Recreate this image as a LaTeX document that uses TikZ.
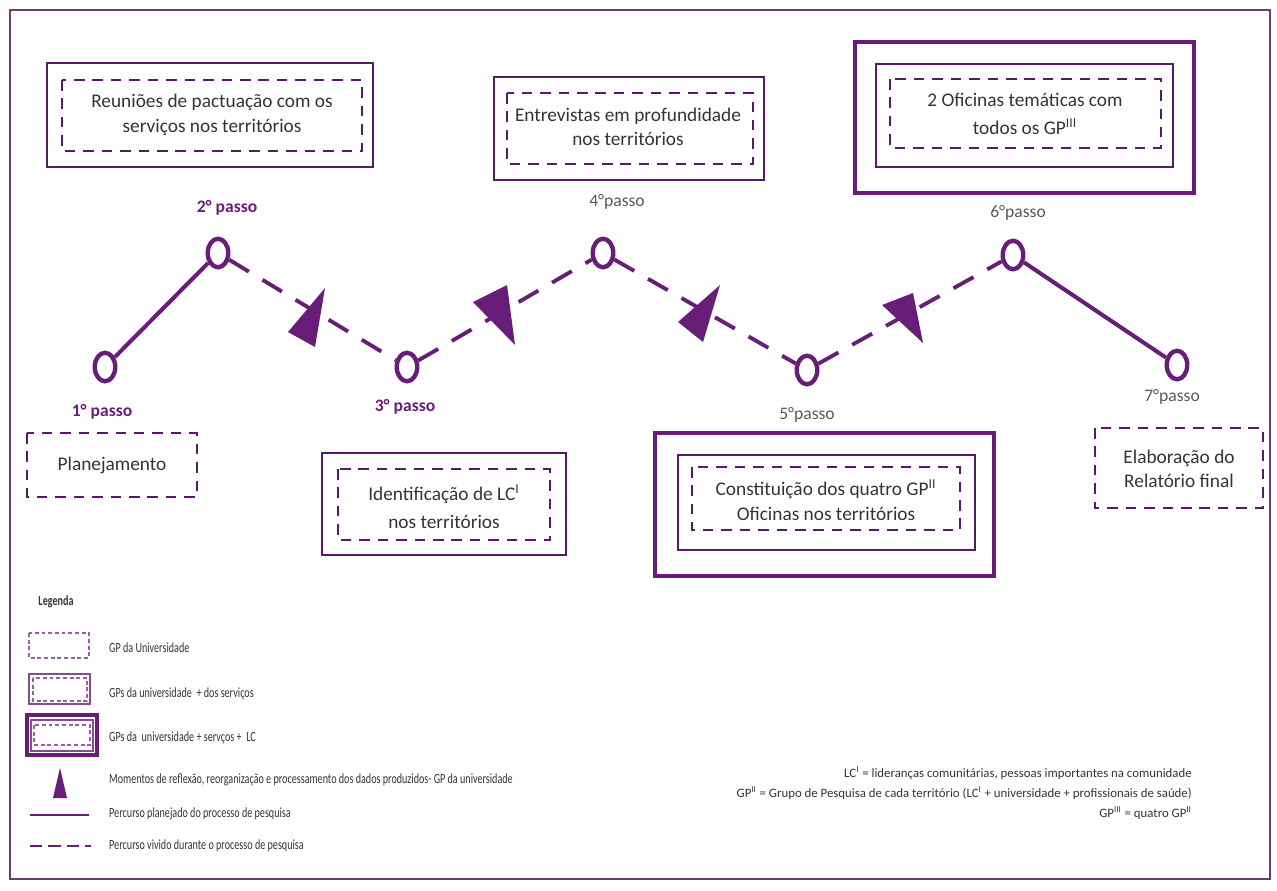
\documentclass[tikz,border=0pt]{standalone}
\usepackage{fontspec}
\setmainfont{Carlito}
\newfontfamily\legendafont[FakeStretch=0.72]{Carlito}
\usetikzlibrary{shapes.geometric}
\definecolor{roxo}{RGB}{104,30,120}
\definecolor{moldura}{RGB}{108,60,112}
\definecolor{texto}{RGB}{52,52,52}
\definecolor{cinza}{RGB}{88,88,88}
\tikzset{
	passo/.style={ellipse, draw=roxo, line width=2.5pt, minimum width=0.41cm, minimum height=0.57cm, inner sep=0pt},
	planejado/.style={draw=roxo, line width=2.3pt},
	vivido/.style={draw=roxo, line width=2.2pt, dash pattern=on 13pt off 9pt},
	gpuni/.style={draw=roxo!85!black, line width=1.6pt, dash pattern=on 6pt off 4.5pt},
	gpserv/.style={draw=roxo!85!black, line width=1.2pt},
	gplc/.style={draw=roxo, line width=2.8pt},
	rotulo/.style={font=\bfseries\fontsize{10}{12}\selectfont, text=roxo},
	rotulocinza/.style={font=\fontsize{10}{12}\selectfont, text=cinza},
	caixa/.style={align=center, font=\fontsize{11}{14}\selectfont, text=texto},
	legtexto/.style={anchor=west, font=\legendafont\fontsize{8}{9}\selectfont, text=texto},
	nota/.style={anchor=east, font=\fontsize{7.3}{9}\selectfont, text=texto},
}
\begin{document}
\begin{tikzpicture}[x=0.02cm, y=-0.02cm]
			%%%%% MOLDURA %%%%%
			\useasboundingbox (0,0) rectangle (1277,890);
			\draw[moldura, line width=1.2pt] (10,10) rectangle (1270,879);
			
			%%%%% PASSOS %%%%%
			\node[passo] (n1) at (105,367) {};
			\node[passo] (n2) at (218,253) {};
			\node[passo] (n3) at (407,367) {};
			\node[passo] (n4) at (603,253) {};
			\node[passo] (n5) at (807,370) {};
			\node[passo] (n6) at (1013,255) {};
			\node[passo] (n7) at (1177,365) {};
			
			\draw[planejado] (n1) -- (n2);
			\draw[vivido] (n2) -- (n3);
			\draw[vivido] (n3) -- (n4);
			\draw[vivido] (n4) -- (n5);
			\draw[vivido] (n5) -- (n6);
			\draw[planejado] (n6) -- (n7);
			
			% momentos de reflexao
			\fill[roxo] (325,288) -- (288,332) -- (315,347) -- cycle;
			\fill[roxo] (473,302) -- (507,285) -- (515,345) -- cycle;
			\fill[roxo] (720,285) -- (678,322) -- (703,342) -- cycle;
			\fill[roxo] (882,305) -- (913,293) -- (923,343) -- cycle;
			
			\node[rotulo] (r1) at (102,412) {1° passo};
			\node[rotulo] (r2) at (227,208) {2° passo};
			\node[rotulo] (r3) at (405,407) {3° passo};
			\node[rotulocinza] (r4) at (617,202) {4°passo};
			\node[rotulocinza] (r5) at (807,415) {5°passo};
			\node[rotulocinza] (r6) at (1018,213) {6°passo};
			\node[rotulocinza] (r7) at (1172,397) {7°passo};
			
			%%%%% CAIXAS %%%%%
			\draw[gpuni] (27,433) rectangle (197,497);
			\node[caixa] (c1) at (112,465) {Planejamento};
			
			\draw[gpserv] (47,63) rectangle (373,167);
			\draw[gpuni] (62,80) rectangle (362,151);
			\node[caixa] (c2) at (212,115) {Reuniões de pactuação com os\\serviços nos territórios};
			
			\draw[gpserv] (322,453) rectangle (566,555);
			\draw[gpuni] (338,469) rectangle (550,540);
			\node[caixa] (c3) at (444,507) {Identificação de LC\textsuperscript{I}\\[2pt]nos territórios};
			
			\draw[gpserv] (494,77) rectangle (764,180);
			\draw[gpuni] (507,93) rectangle (753,164);
			\node[caixa] (c4) at (628,127) {Entrevistas em profundidade\\nos territórios};
			
			\draw[gplc] (655,433) rectangle (994,576);
			\draw[gpserv] (678,455) rectangle (975,550);
			\draw[gpuni] (692,467) rectangle (960,530);
			\node[caixa] (c5) at (826,500) {Constituição dos quatro GP\textsuperscript{II}\\Oficinas nos territórios};
			
			\draw[gplc] (855,42) rectangle (1194,193);
			\draw[gpserv] (876,64) rectangle (1173,167);
			\draw[gpuni] (890,79) rectangle (1161,148);
			\node[caixa] (c6) at (1025,114) {2 Oficinas temáticas com\\[2pt]todos os GP\textsuperscript{III}};
			
			\draw[gpuni] (1095,428) rectangle (1263,508);
			\node[caixa] (c7) at (1179,469) {Elaboração do\\Relatório final};
			
			%%%%% LEGENDA %%%%%
			\node[font=\legendafont\bfseries\fontsize{8}{9}\selectfont, text=texto] (leg) at (56,602) {Legenda};
			
			\draw[draw=roxo!70, line width=0.7pt, dash pattern=on 2.2pt off 1.6pt] (29,633) rectangle (89,658);
			\node[legtexto] (l1) at (103,648) {GP da Universidade};
			
			\draw[draw=roxo!80, line width=0.9pt] (29,674) rectangle (90,704);
			\draw[draw=roxo!70, line width=0.7pt, dash pattern=on 2.2pt off 1.6pt] (33,678) rectangle (87,701);
			\node[legtexto] (l2) at (103,694) {GPs da universidade\ \ + dos serviços};
			
			\draw[draw=roxo, line width=1.8pt] (27,715) rectangle (97,755);
			\draw[draw=roxo!80, line width=0.8pt] (31,720) rectangle (93,751);
			\draw[draw=roxo!70, line width=0.7pt, dash pattern=on 2.2pt off 1.6pt] (34,725) rectangle (90,745);
			\node[legtexto] (l3) at (103,738) {GPs da\ \ universidade + servços +\ \ LC};
			
			\fill[roxo] (60,768) -- (53,798) -- (67,798) -- cycle;
			\node[legtexto] (l4) at (103,780) {Momentos de reflexão, reorganização e processamento dos dados produzidos- GP da universidade};
			
			\coordinate (p1) at (30,815);
			\coordinate (p2) at (89,815);
			\draw[draw=roxo, line width=1.6pt] (p1) -- (p2);
			\node[legtexto] (l5) at (103,814) {Percurso planejado do processo de pesquisa};
			
			\coordinate (v1) at (30,846);
			\coordinate (v2) at (91,846);
			\draw[draw=roxo, line width=1.6pt, dash pattern=on 7pt off 3.5pt] (v1) -- (v2);
			\node[legtexto] (l6) at (103,846) {Percurso vivido durante o processo de pesquisa};
			
			%%%%% NOTAS %%%%%
			\node[nota] (f1) at (1198,773) {LC\textsuperscript{I} = lideranças comunitárias, pessoas importantes na comunidade};
			\node[nota] (f2) at (1198,793) {GP\textsuperscript{II} = Grupo de Pesquisa de cada território (LC\textsuperscript{I} + universidade + profissionais de saúde)};
			\node[nota] (f3) at (1198,813) {GP\textsuperscript{III} = quatro GP\textsuperscript{II}};
\end{tikzpicture}
\end{document}
